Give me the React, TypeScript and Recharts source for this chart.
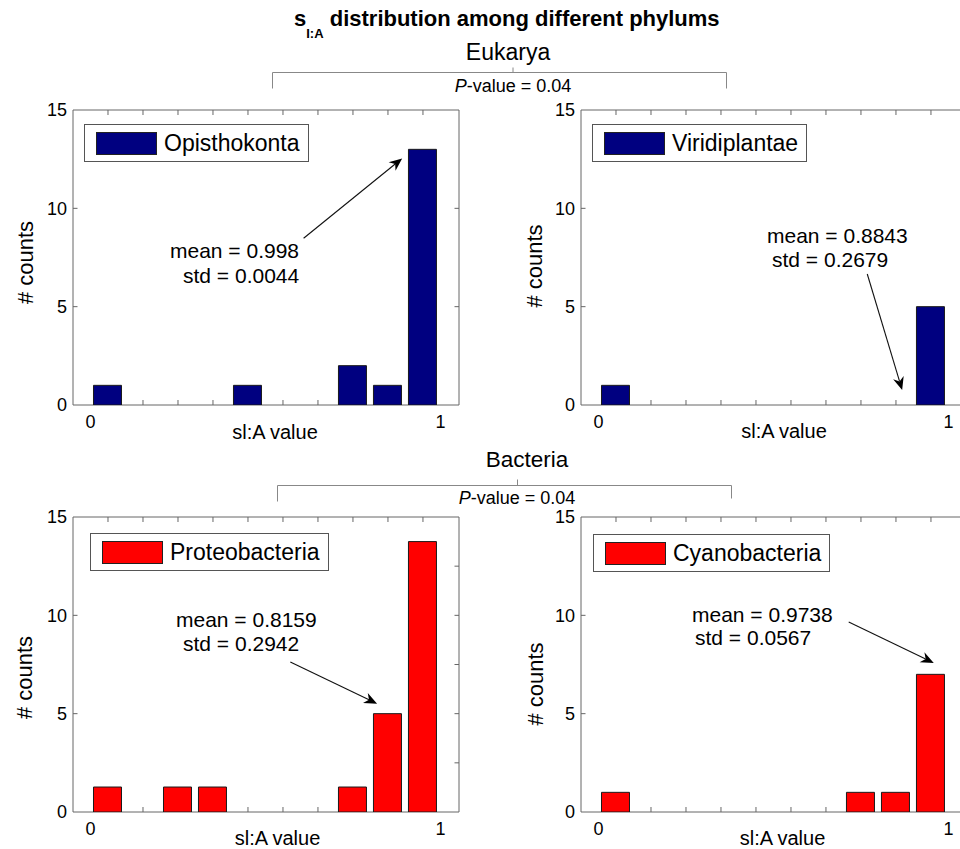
import React from 'react';
import { BarChart, Bar, XAxis, YAxis, ReferenceArea, ReferenceLine, Legend } from 'recharts';

const FONT = '"Liberation Sans", Arial, Helvetica, sans-serif';

// ---- data ----
const binCenters = [0.05, 0.15, 0.25, 0.35, 0.45, 0.55, 0.65, 0.75, 0.85, 0.95];
const xTickLabels = [0, 1];
const yTickValues = [0, 2.5, 5, 7.5, 10, 12.5, 15];
const yTickLabels = [0, 5, 10, 15];
const yInnerTicks = [5, 10];

const opisthokontaCounts = [1, 0, 0, 0, 1, 0, 0, 2, 1, 13];
const viridiplantaeCounts = [1, 0, 0, 0, 0, 0, 0, 0, 0, 5];
const proteobacteriaCounts = [1.27, 0, 1.27, 1.27, 0, 0, 0, 1.27, 5, 13.75];
const cyanobacteriaCounts = [1, 0, 0, 0, 0, 0, 0, 1, 1, 7];

const panelNames = ['Opisthokonta', 'Viridiplantae', 'Proteobacteria', 'Cyanobacteria'];
const meanLabels = ['mean = 0.998', 'mean = 0.8843', 'mean = 0.8159', 'mean = 0.9738'];
const stdLabels = ['std = 0.0044', 'std = 0.2679', 'std = 0.2942', 'std = 0.0567'];
const rightTickSets = [[5, 10], [5, 10], [2.5, 5, 7.5, 10, 12.5], [5, 10]];
const arrowStarts = [
  { x: 0.609, y: 8.48 },
  { x: 0.768, y: 6.66 },
  { x: 0.571, y: 7.63 },
  { x: 0.715, y: 9.66 },
];
const arrowTips = [
  { x: 0.8906, y: 12.54 },
  { x: 0.8677, y: 0.76 },
  { x: 0.819, y: 5.51 },
  { x: 0.958, y: 7.58 },
];
const groupNames = ['Eukarya', 'Bacteria'];
const pValueText = '-value = 0.04';

// ---- layout ----
const X_DOMAIN: [number, number] = [-0.05, 1.053];
const PW = 386;
const PH = 295;
const ML = 73;
const MT = 30;
const MR = 20;
const MB = 45;
const YW = 40;
const XH = 30;
const CW = ML + PW + MR;
const CH = MT + PH + MB;
const BOX = '#666';
const NAVY = '#000080';
const RED = '#ff0000';

const panels = [
  { plotLeft: 73, plotTop: 110, counts: opisthokontaCounts, color: NAVY, legend: [11, 14],
    mean: [170, 258], std: [183, 282.7], ylab: [33, 262.5], xlab: [275, 439] },
  { plotLeft: 581, plotTop: 110, counts: viridiplantaeCounts, color: NAVY, legend: [11, 14],
    mean: [767, 242.7], std: [772, 266.7], ylab: [542, 266], xlab: [784, 438] },
  { plotLeft: 73, plotTop: 517, counts: proteobacteriaCounts, color: RED, legend: [17, 16],
    mean: [176, 626.7], std: [183, 651], ylab: [32, 677.5], xlab: [277.5, 845] },
  { plotLeft: 581, plotTop: 517, counts: cyanobacteriaCounts, color: RED, legend: [12, 17],
    mean: [692, 621.7], std: [695, 645], ylab: [543, 684], xlab: [782.5, 845] },
];

const ArrowShape = (p: any) => {
  const { x1, y1, x2, y2 } = p;
  if (![x1, y1, x2, y2].every((v: any) => Number.isFinite(v))) return <g />;
  const dx = x2 - x1;
  const dy = y2 - y1;
  const len = Math.hypot(dx, dy) || 1;
  const ux = dx / len;
  const uy = dy / len;
  const px = -uy;
  const py = ux;
  const L = 13;
  const W = 5.5;
  const N = 9;
  const bx = x2 - ux * L;
  const by = y2 - uy * L;
  const nx = x2 - ux * N;
  const ny = y2 - uy * N;
  return (
    <g>
      <line x1={x1} y1={y1} x2={nx} y2={ny} stroke="#111" strokeWidth={1.1} />
      <polygon
        points={`${x2},${y2} ${bx + px * W},${by + py * W} ${nx},${ny} ${bx - px * W},${by - py * W}`}
        fill="#000"
      />
    </g>
  );
};

const makeXTick = (counts: number[]) => (props: any) => {
  const { x, y, payload } = props;
  const v = payload.value;
  if (xTickLabels.includes(v)) {
    return (
      <text x={x} y={y + 22.5} textAnchor="middle" fontSize={18} fill="#000" fontFamily={FONT}>
        {v}
      </text>
    );
  }
  const i = binCenters.indexOf(v);
  const hidden = i >= 0 && counts[i] > 0;
  return (
    <g>
      {!hidden && <line x1={x} y1={y} x2={x} y2={y - 5} stroke={BOX} strokeWidth={1} />}
      <line x1={x} y1={y - PH} x2={x} y2={y - PH + 5} stroke={BOX} strokeWidth={1} />
    </g>
  );
};

const makeYTick = (rightTicks: number[]) => (props: any) => {
  const { x, y, payload } = props;
  const v = payload.value;
  return (
    <g>
      {yTickLabels.includes(v) && (
        <text x={x - 6} y={y} dy="0.35em" textAnchor="end" fontSize={18} fill="#000" fontFamily={FONT}>
          {v}
        </text>
      )}
      {yInnerTicks.includes(v) && <line x1={x} y1={y} x2={x + 4.5} y2={y} stroke={BOX} strokeWidth={1} />}
      {rightTicks.includes(v) && (
        <line x1={x + PW - 4.5} y1={y} x2={x + PW} y2={y} stroke={BOX} strokeWidth={1} />
      )}
    </g>
  );
};

const LegendBox = ({ name, color }: { name: string; color: string }) => (
  <div
    style={{
      display: 'flex',
      alignItems: 'center',
      boxSizing: 'border-box',
      height: 38,
      border: '1px solid #555',
      background: '#fff',
      padding: '0 8px 0 11px',
      fontFamily: FONT,
      whiteSpace: 'nowrap',
    }}
  >
    <div style={{ width: 61, height: 23, background: color, border: '1px solid #222', boxSizing: 'border-box' }} />
    <span style={{ marginLeft: 7, fontSize: 23, color: '#000', lineHeight: '24px' }}>{name}</span>
  </div>
);

const Panel = ({ idx }: { idx: number }) => {
  const cfg = panels[idx];
  const data = binCenters.map((x, i) => ({ x, count: cfg.counts[i] }));
  return (
    <div style={{ position: 'absolute', left: cfg.plotLeft - ML, top: cfg.plotTop - MT }}>
      <BarChart
        width={CW}
        height={CH}
        data={data}
        margin={{ top: MT, right: MR, bottom: MB - XH, left: ML - YW }}
      >
        <XAxis
          dataKey="x"
          type="number"
          domain={X_DOMAIN}
          allowDataOverflow
          ticks={[0, ...binCenters, 1]}
          interval={0}
          tickSize={0}
          tickMargin={0}
          tickLine={false}
          axisLine={false}
          height={XH}
          tick={makeXTick(cfg.counts)}
        />
        <YAxis
          type="number"
          domain={[0, 15]}
          allowDataOverflow
          ticks={yTickValues}
          interval={0}
          tickSize={0}
          tickMargin={0}
          tickLine={false}
          axisLine={false}
          width={YW}
          tick={makeYTick(rightTickSets[idx])}
        />
        <ReferenceArea
          x1={X_DOMAIN[0]}
          x2={X_DOMAIN[1]}
          y1={0}
          y2={15}
          fill="none"
          fillOpacity={0}
          stroke={BOX}
          strokeWidth={1}
          ifOverflow="visible"
        />
        <Bar
          dataKey="count"
          name={panelNames[idx]}
          fill={cfg.color}
          stroke="#1a1a1a"
          strokeWidth={1}
          barSize={28}
          isAnimationActive={false}
        />
        <ReferenceLine segment={[arrowStarts[idx], arrowTips[idx]]} shape={ArrowShape} ifOverflow="visible" />
        <Legend
          layout="vertical"
          align="center"
          verticalAlign="middle"
          wrapperStyle={{ left: ML + cfg.legend[0], top: MT + cfg.legend[1], width: 'auto' }}
          content={() => <LegendBox name={panelNames[idx]} color={cfg.color} />}
        />
      </BarChart>
    </div>
  );
};

const Overlay = () => (
  <svg
    width={960}
    height={849}
    style={{ position: 'absolute', left: 0, top: 0, pointerEvents: 'none' }}
    fontFamily={FONT}
  >
    <text x={294} y={26} fontSize={22} fontWeight="bold" fill="#000">
      <tspan>s</tspan>
      <tspan fontSize={13} dy={12}>I:A</tspan>
      <tspan dy={-12}> distribution among different phylums</tspan>
    </text>

    <text x={508} y={60} fontSize={23} textAnchor="middle" fill="#000">{groupNames[0]}</text>
    <path d="M272.5 88.5 V72.5 H726.5 V88.5 M513 72.5 V67.5" fill="none" stroke="#888" strokeWidth={1} />
    <text x={513} y={91.7} fontSize={18} textAnchor="middle" fill="#000">
      <tspan fontStyle="italic">P</tspan>
      {pValueText}
    </text>

    <text x={527} y={466.7} fontSize={22.5} textAnchor="middle" fill="#000">{groupNames[1]}</text>
    <path d="M277.5 501.5 V485.5 H731.5 V498.5 M517.5 485.5 V479.5" fill="none" stroke="#888" strokeWidth={1} />
    <text x={517} y={503.5} fontSize={18} textAnchor="middle" fill="#000">
      <tspan fontStyle="italic">P</tspan>
      {pValueText}
    </text>

    {panels.map((cfg, i) => (
      <g key={i}>
        <text x={cfg.mean[0]} y={cfg.mean[1]} fontSize={21} fill="#000">{meanLabels[i]}</text>
        <text x={cfg.std[0]} y={cfg.std[1]} fontSize={21} fill="#000">{stdLabels[i]}</text>
        <text
          transform={`translate(${cfg.ylab[0]}, ${cfg.ylab[1]}) rotate(-90)`}
          fontSize={22}
          textAnchor="middle"
          fill="#000"
        >
          # counts
        </text>
        <text x={cfg.xlab[0]} y={cfg.xlab[1]} fontSize={20} textAnchor="middle" fill="#000">
          sl:A value
        </text>
      </g>
    ))}
  </svg>
);

export default function App() {
  return (
    <div
      style={{
        position: 'absolute',
        left: 0,
        top: 0,
        width: 960,
        height: 849,
        overflow: 'hidden',
        background: '#fff',
        fontFamily: FONT,
      }}
    >
      {panels.map((_, i) => (
        <Panel key={i} idx={i} />
      ))}
      <Overlay />
    </div>
  );
}
